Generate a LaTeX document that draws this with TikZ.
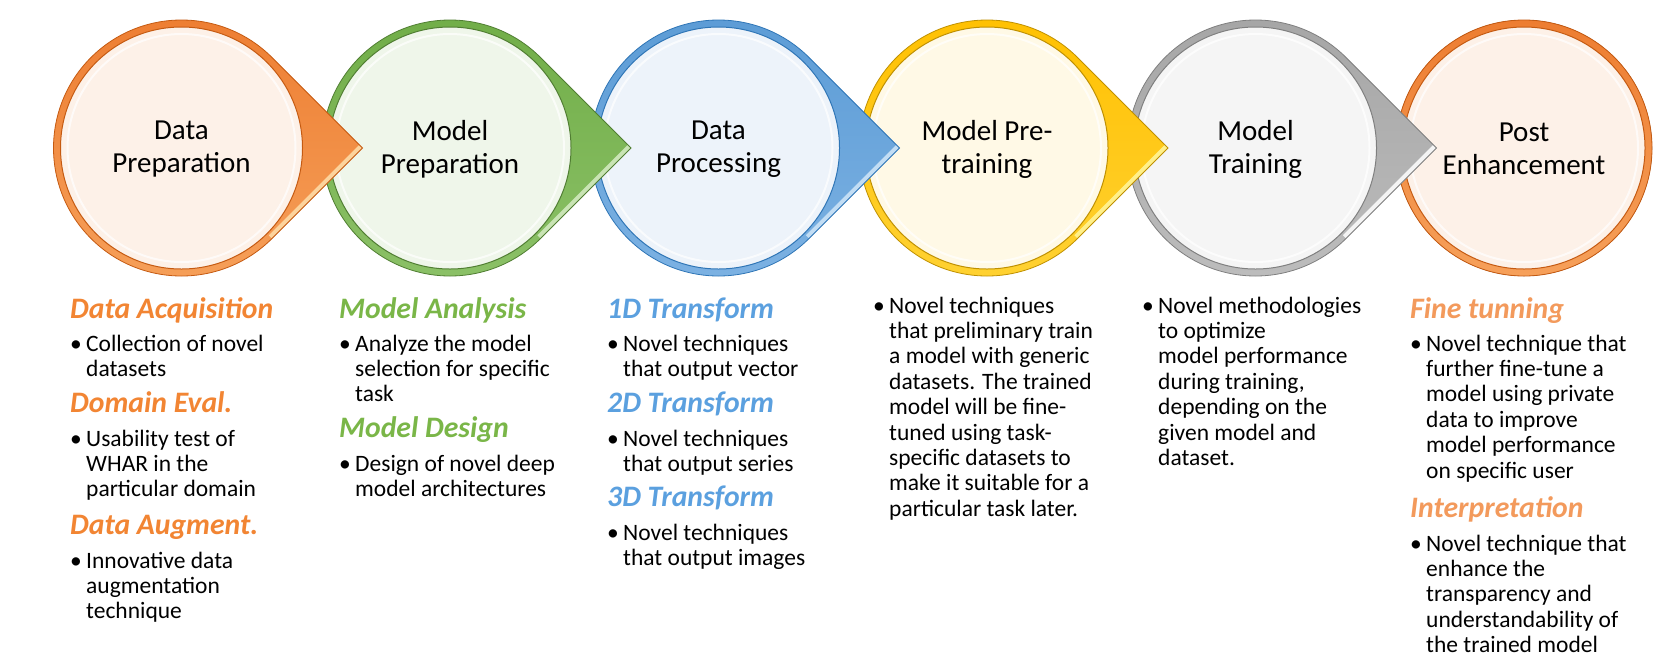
\documentclass[tikz,border=0pt]{standalone}
\usepackage{fontspec}
\setmainfont{Carlito}
\usepackage{graphicx}

% ring colours: main, inner fill, dark edge, lower shade, bevel highlight
\definecolor{orMain}{HTML}{ED7D31}\definecolor{orFill}{HTML}{FDF1E8}\definecolor{orDark}{HTML}{C55A11}
\definecolor{orLow}{HTML}{F6A05A}\definecolor{orHi}{HTML}{FCD39C}
\definecolor{grMain}{HTML}{70AD47}\definecolor{grFill}{HTML}{EFF6EA}\definecolor{grDark}{HTML}{507E32}
\definecolor{grLow}{HTML}{8CC168}\definecolor{grHi}{HTML}{C9E4B4}
\definecolor{blMain}{HTML}{5B9BD5}\definecolor{blFill}{HTML}{EDF3FA}\definecolor{blDark}{HTML}{2E75B6}
\definecolor{blLow}{HTML}{7DB2E3}\definecolor{blHi}{HTML}{C2DDF4}
\definecolor{gdMain}{HTML}{FFC000}\definecolor{gdFill}{HTML}{FFF9E6}\definecolor{gdDark}{HTML}{BF9000}
\definecolor{gdLow}{HTML}{FFD233}\definecolor{gdHi}{HTML}{FFF08A}
\definecolor{gyMain}{HTML}{A5A5A5}\definecolor{gyFill}{HTML}{F5F5F5}\definecolor{gyDark}{HTML}{7F7F7F}
\definecolor{gyLow}{HTML}{BDBDBD}\definecolor{gyHi}{HTML}{F4F4F4}
% heading colours
\definecolor{hdOrange}{HTML}{F28533}
\definecolor{hdGreen}{HTML}{7AB648}
\definecolor{hdBlue}{HTML}{5BA0DF}
\definecolor{hdPeach}{HTML}{F39A5C}

% circle with a pointer towards the next stage
\newcommand{\pointedring}[6]{%
  \begin{scope}[shift={(#1,-148)}]
    \path[top color=#2, bottom color=#5]
      (45:128pt) arc[start angle=45, end angle=315, radius=128pt] -- (181pt,0pt) -- cycle;
    \begin{scope}
      \clip (45:128pt) arc[start angle=45, end angle=315, radius=128pt] -- (181pt,0pt) -- cycle;
      \draw[#6, line width=9pt] (315:128pt) -- (181pt,0pt);
    \end{scope}
    \draw[#4, line width=0.8pt]
      (45:128pt) arc[start angle=45, end angle=315, radius=128pt] -- (181pt,0pt) -- cycle;
    \fill[#3, draw=#4, line width=1pt] (0,0) circle[radius=121pt];
    \draw[white, line width=2pt, opacity=0.7] (0,0) circle[radius=114pt];
  \end{scope}}
% last circle, without a pointer
\newcommand{\plainring}[5]{%
  \begin{scope}[shift={(#1,-148)}]
    \fill[top color=#2, bottom color=#5, draw=#4, line width=0.8pt] (0,0) circle[radius=128pt];
    \fill[#3, draw=#4, line width=1pt] (0,0) circle[radius=121pt];
    \draw[white, line width=2pt, opacity=0.7] (0,0) circle[radius=114pt];
  \end{scope}}

% bulleted paragraph with hanging indent
\newcommand{\itempar}[1]{\parbox[t]{330pt}{\hangindent=16pt\hangafter=1\noindent\makebox[16pt][l]{\textbullet}#1}}

\begin{document}
\begin{tikzpicture}[x=1pt,y=1pt,
  title/.style={align=center, inner sep=0pt, font=\fontsize{29}{33}\selectfont},
  headtxt/.style={anchor=base west, inner sep=0pt, font=\fontsize{29.7}{31}\selectfont\bfseries\itshape},
  bodytxt/.style={anchor=base west, inner sep=0pt, font=\fontsize{23.5}{25.4}\selectfont},
]
\useasboundingbox[fill=white] (0,0) rectangle (1670,-670);

% stage rings, drawn right to left so each pointer lies over the next ring
\plainring{1524}{orMain}{orFill}{orDark}{orLow}
\pointedring{1255.5}{gyMain}{gyFill}{gyDark}{gyLow}{gyHi}
\pointedring{987}{gdMain}{gdFill}{gdDark}{gdLow}{gdHi}
\pointedring{718.5}{blMain}{blFill}{blDark}{blLow}{blHi}
\pointedring{450}{grMain}{grFill}{grDark}{grLow}{grHi}
\pointedring{181.5}{orMain}{orFill}{orDark}{orLow}{orHi}

% stage titles
\node[title] (s1) at (181.5,-149) {Data\\Preparation};
\node[title] (s2) at (450,-149) {Model\\Preparation};
\node[title] (s3) at (718.5,-149) {Data\\Processing};
\node[title] (s4) at (987,-149) {Model Pre-\\training};
\node[title] (s5) at (1255.5,-149) {Model\\Training};
\node[title] (s6) at (1524,-149) {Post\\Enhancement};

% column 1
\node[headtxt, text=hdOrange] (h1a) at (70,-318) {Data Acquisition};
\node[bodytxt] (b1a) at (70,-351) {\itempar{Collection of novel\newline datasets}};
\node[headtxt, text=hdOrange] (h1b) at (70,-412) {Domain Eval.};
\node[bodytxt] (b1b) at (70,-446) {\itempar{Usability test of\newline WHAR in the\newline particular domain}};
\node[headtxt, text=hdOrange] (h1c) at (70,-534) {Data Augment.};
\node[bodytxt] (b1c) at (70,-568) {\itempar{Innovative data\newline augmentation\newline technique}};

% column 2
\node[headtxt, text=hdGreen] (h2a) at (339,-318) {Model Analysis};
\node[bodytxt] (b2a) at (339,-351) {\itempar{Analyze the model\newline selection for specific\newline task}};
\node[headtxt, text=hdGreen] (h2b) at (339,-437) {Model Design};
\node[bodytxt] (b2b) at (339,-471) {\itempar{Design of novel deep\newline model architectures}};

% column 3
\node[headtxt, text=hdBlue] (h3a) at (607,-318) {1D Transform};
\node[bodytxt] (b3a) at (607,-351) {\itempar{Novel techniques\newline that output vector}};
\node[headtxt, text=hdBlue] (h3b) at (607,-412) {2D Transform};
\node[bodytxt] (b3b) at (607,-446) {\itempar{Novel techniques\newline that output series}};
\node[headtxt, text=hdBlue] (h3c) at (607,-506) {3D Transform};
\node[bodytxt] (b3c) at (607,-540) {\itempar{Novel techniques\newline that output images}};

% column 4
\node[bodytxt] (b4) at (873,-313) {\itempar{Novel techniques\newline that preliminary train\newline a model with generic\newline datasets. The trained\newline model will be fine-\newline tuned using task-\newline specific datasets to\newline make it suitable for a\newline particular task later.}};

% column 5
\node[bodytxt] (b5) at (1142,-313) {\itempar{Novel methodologies\newline to optimize\newline model performance\newline during training,\newline depending on the\newline given model and\newline dataset.}};

% column 6
\node[headtxt, text=hdPeach] (h6a) at (1410,-318) {Fine tunning};
\node[bodytxt] (b6a) at (1410,-351) {\itempar{Novel technique that\newline further fine-tune a\newline model using private\newline data to improve\newline model performance\newline on specific user}};
\node[headtxt, text=hdPeach] (h6b) at (1410,-517) {Interpretation};
\node[bodytxt] (b6b) at (1410,-551) {\itempar{Novel technique that\newline enhance the\newline transparency and\newline understandability of\newline the trained model}};
\end{tikzpicture}
\end{document}
